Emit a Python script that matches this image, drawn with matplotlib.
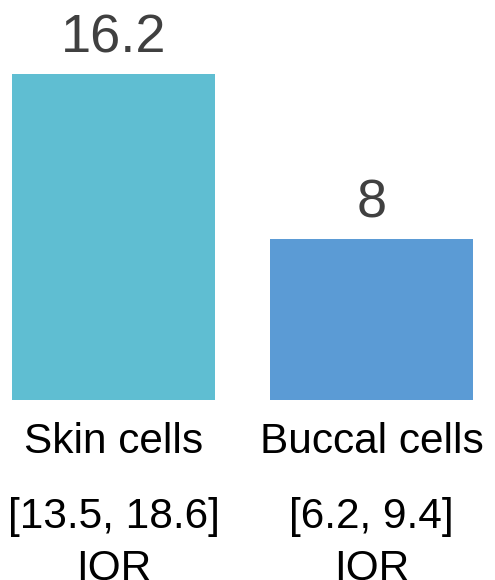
"""
Median per cell type bar chart with IQR labels
"""

import matplotlib
matplotlib.use("Agg")
import matplotlib.pyplot as plt

# Data
cell_types = ["Skin cells", "Buccal cells"]
medians = [16.2, 8]
iqr_labels = ["[13.5, 18.6]", "[6.2, 9.4]"]
bar_colors = ["#5FBED2", "#5B9BD5"]

plt.rcParams["font.family"] = ["Liberation Sans", "DejaVu Sans"]

fig = plt.figure(figsize=(4.95, 5.8), dpi=100)
ax = fig.add_axes([0, 180 / 580, 1, 400 / 580])

x = list(range(len(cell_types)))
ax.bar(x, medians, width=0.787, color=bar_colors)
ax.set_xlim(-0.440, 1.479)
ax.set_ylim(0, 19.88)
ax.axis("off")

for i, (name, value, iqr) in enumerate(zip(cell_types, medians, iqr_labels)):
    # Value label above the bar
    label = f"{value:g}"
    ax.annotate(label, (i, value), xytext=(0, 22), textcoords="offset pixels",
                ha="center", va="baseline", fontsize=39, color="#404040")

    # Category and IQR text below the axis (IQR runs off the bottom, as in the source)
    for text, drop in [(name, 53), (iqr, 128), ("IQR", 179)]:
        ax.annotate(text, (i, 0), xycoords=("data", "axes fraction"),
                    xytext=(0, -drop), textcoords="offset pixels",
                    ha="center", va="baseline", fontsize=30.5, color="black",
                    annotation_clip=False)

fig.savefig("out.png", dpi=100)
plt.close(fig)
